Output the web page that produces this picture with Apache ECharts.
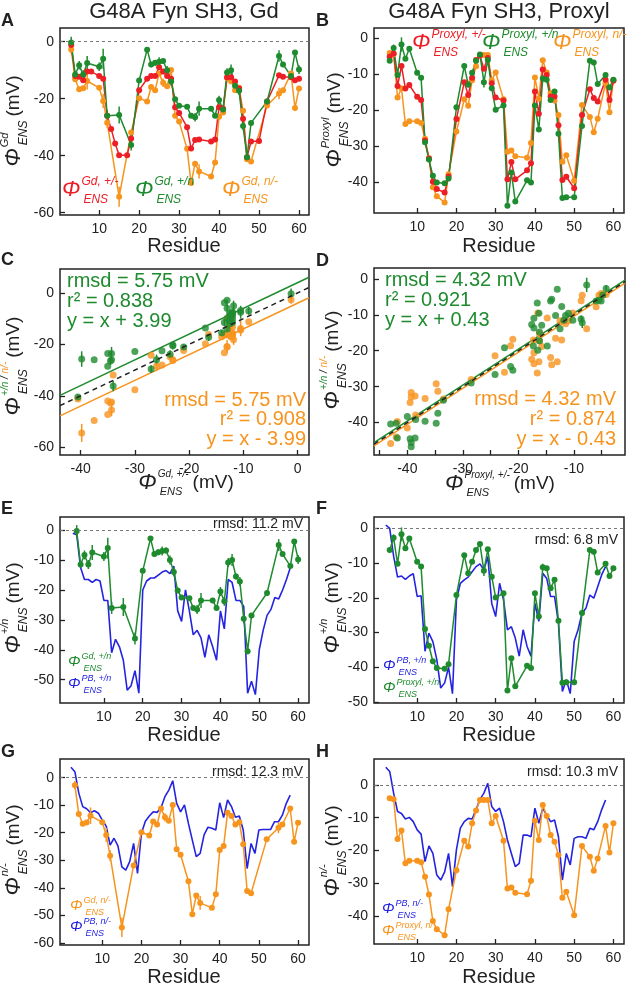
<!DOCTYPE html>
<html>
<head>
<meta charset="utf-8">
<script src="https://cdn.jsdelivr.net/npm/echarts@6/dist/echarts.min.js"></script>
<style>
  html, body { margin: 0; background: #fff; }
  #chart { width: 627px; height: 986px; }
</style>
</head>
<body>
<div id="chart"></div>
<script>
// ---- Gd data (residue, mV) ----
const gdResPM = [3,4,5,6,7,8,10,11,12,13,14,15,17,18,20,22,23,24,25,26,27,28,29,30,32,33,34,35,38,39,40,41,42,43,44,45,46,47,48,50,52,55,56,58,59,60];
const gdPM = [-1.2,-12,-12.3,-13.5,-10.5,-10.5,-12,-13,-26,-30.6,-35.7,-39.8,-39.8,-34,-17,-13,-12,-12,-9,-10.5,-12,-13,-23,-25,-30,-37.5,-34.5,-34.3,-35,-34.3,-23,-23.5,-12.5,-12.5,-14,-16.4,-27,-40.5,-35,-34.8,-21,-11.8,-12.3,-12.5,-13.5,-13];
const gdRes = [3,4,5,6,7,10,11,12,15,18,20,22,23,24,25,26,27,28,29,30,32,33,34,35,38,39,40,41,42,43,44,45,46,47,48,52,55,56,58,59,60];
const gdPN = [-0.3,-11.5,-8.3,-11.5,-7.5,-8.8,-6,-26,-25.7,-36.2,-13.6,-2.8,-8,-7.4,-7,-6.8,-10,-14,-20.2,-22.5,-22.8,-26,-26.5,-23.5,-23.5,-26,-20.5,-23.8,-10.8,-10,-15.5,-17.2,-29.6,-40.5,-28.5,-21,-5,-8,-12,-3.8,-9.8];
const gdPNerr = [2,1,1.5,1.5,2.5,1.5,3.5,2,3,2,0,0,1,1,1.5,1,1.5,1.5,0,0,0,0,1.5,2.5,0,0,1.5,1.5,1.5,2,1,1.5,1.5,1,0,1,2,0,0,0,1.5];
const gdNM = [-2.7,-13.2,-16.7,-16.3,-13.8,-16.2,-20.8,-28.4,-54.4,-31.9,-19.8,-21,-15.9,-17,-11.2,-14.4,-15.6,-9.9,-26,-28,-37.6,-49.6,-42.8,-45.5,-47.3,-42.4,-26.3,-24.8,-12.7,-13.9,-17,-16.2,-24.2,-41.2,-42,-22.4,-18.2,-17,-11.2,-23.3,-16.4];
const gdNMerr = [1.5,0,0,0,3,0,2.5,2,3.5,0,0,0,0,0,0,1.5,0,0,0,0,0,0,0,2.5,0,0,0,0,0,0,0,0,0,0,0,0,2,0,0,0,0];

// ---- Proxyl data ----
const pxRes = [3,4,5,6,7,8,10,11,12,13,14,15,17,18,20,22,23,24,25,26,27,28,29,30,32,33,34,35,38,39,40,41,42,43,44,45,46,47,48,50,52,54,55,56,58,59,60];
const pxPM = [-5.1,-4.2,-13.3,-7.7,-14,-13,-16.3,-17.2,-28.5,-33.5,-40,-42,-43,-38.5,-22.5,-12.2,-15.8,-11,-6,-4.8,-8.5,-5.5,-12.5,-16.5,-17.3,-39.3,-34.5,-39.3,-36.8,-34.8,-14.8,-21,-8.7,-10.2,-16.2,-16.2,-24.2,-39.5,-38.6,-41.8,-21.4,-14.2,-16.6,-17.6,-11.5,-17.2,-11.8];
const pxPN = [-6.2,-2.7,-10.2,-1.7,-5.7,-2.9,-9.6,-11,-29,-33.8,-38.3,-40.2,-40.4,-39.1,-19.2,-7.7,-12.9,-9.6,-6.2,-4.5,-12.2,-6,-13.9,-19.9,-18.7,-46.7,-37.4,-45.5,-39.6,-40.2,-18.7,-25.4,-11.2,-11.5,-17.2,-14.8,-26.6,-44.5,-44.3,-44.3,-24.4,-6.2,-6.7,-12.7,-10.2,-13.7,-11.5];
const pxPNerr = [0,1,0,2,0,0,0,0,0,0,0,0,0,0,0,0,0,0,0,0,1.5,0,0,0,0,0,0,0,0,0,0,0,1,0,0,0,0,0,0,0,0,0,0,0,0,0,0];
const pxNM = [-4.1,-4.4,-16.5,-13.9,-23.9,-23.1,-23.1,-23.6,-28,-33.4,-41.5,-44,-45.8,-37.9,-26,-17,-18.8,-11.7,-7.8,-4.6,-4.6,-4.6,-11.7,-9.5,-17,-31.6,-31.3,-32.9,-33.3,-29.2,-10.9,-16.8,-6.1,-9.5,-15.3,-17.3,-21.4,-34.4,-32.6,-39.7,-18.6,-21.9,-26.2,-22.4,-12.5,-20.6,-11.7];

// ---- PB calculations ----
const pbRes = [2,3,4,5,6,7,8,9,10,11,12,13,14,15,16,17,18,19,20,21,22,23,24,25,26,27,28,29,30,31,32,33,34,35,36,37,38,39,40,41,42,43,44,45,46,47,48,49,50,51,52,53,54,55,56,57,58];
const pbPN_E = [-1,-1.5,-12.5,-16.5,-16.5,-17.5,-16.5,-17,-23.5,-23.5,-41,-36.5,-39,-43.5,-53.5,-52,-47,-54.5,-20,-17,-16,-16,-15,-14,-13.5,-14.5,-12,-27,-30.5,-20,-27,-35,-33.5,-36,-42.5,-35,-39,-43.5,-27,-33,-16.5,-17.5,-23.5,-23.5,-25.5,-54.5,-50.5,-55,-40,-33.5,-28.5,-26.5,-22.5,-23,-20,-16.5,-12.5];
const pbPN_F = [1,0,-8,-14,-13.7,-14.7,-13.7,-13,-19.6,-19.4,-35.4,-30.2,-32.6,-37.8,-46,-44.5,-40,-47.6,-20.6,-15.8,-14.8,-14,-12.5,-11,-10.2,-12,-8.1,-21.6,-25.4,-15.8,-20.6,-29.2,-28.3,-31.6,-36.8,-29.2,-34,-36.8,-21.6,-26.8,-12.9,-14.4,-19.6,-19.6,-27.3,-47,-43.6,-47.6,-32.6,-29.2,-24.4,-23,-19.2,-20.1,-16.8,-13.4,-11];
const pbNM_G = [3.8,2.2,-5.6,-10.5,-11.3,-12.7,-12,-12.9,-15.4,-17.6,-24.5,-22,-24.8,-32.4,-33.6,-30.5,-23.9,-34.8,-20.2,-15.8,-13.9,-12.4,-12.6,-10.9,-6.9,-4.5,-1.1,-9.3,-12.4,-9.9,-16.6,-22.7,-28.7,-27.5,-20.8,-18,-18.4,-19,-9.1,-14.5,-8.1,-10.5,-14.4,-13.9,-19,-33,-23.9,-27.5,-19,-18.8,-18.8,-18.8,-16,-16,-13.6,-9.3,-6.3];
const pbNM_H = [5.4,4.1,-2.5,-8.1,-8.7,-10.4,-9.9,-11.2,-13.7,-15,-23.4,-18.6,-20.9,-27.5,-29,-26.5,-20.9,-31,-19.8,-13.2,-11.2,-10.2,-10.4,-7.6,-4.4,-2.5,0.5,-6.6,-8.1,-7.1,-11.2,-16.8,-20.9,-24.9,-23.9,-15.3,-15.3,-15.8,-7.1,-11.7,-7.1,-9.2,-11.2,-10.7,-15.8,-29,-20.9,-24.4,-16.3,-15.8,-15.8,-16.3,-13.2,-13.7,-11.2,-7.6,-4.6];

// ---- fits and stats ----
const fitC = [3.99, -3.99];
const fitD = [0.43, -0.43];
const statsCgreen = ['rmsd = 5.75 mV', 'r² = 0.838', 'y = x + 3.99'];
const statsCorange = ['rmsd = 5.75 mV', 'r² = 0.908', 'y = x - 3.99'];
const statsDgreen = ['rmsd = 4.32 mV', 'r² = 0.921', 'y = x + 0.43'];
const statsDorange = ['rmsd = 4.32 mV', 'r² = 0.874', 'y = x - 0.43'];
const rmsdEFGH = ['rmsd: 11.2 mV', 'rmsd: 6.8 mV', 'rmsd: 12.3 mV', 'rmsd: 10.3 mV'];

// ---- tick labels ----
const resTicks = [10, 20, 30, 40, 50, 60];
const xTicksC = [-40, -30, -20, -10, 0];
const xTicksD = [-40, -30, -20, -10];
const xMinorD = [-45, -40, -35, -30, -25, -20, -15, -10, -5];
const yTicks20 = [0, -20, -40, -60];
const yTicks40 = [0, -10, -20, -30, -40];
const yTicks50 = [0, -10, -20, -30, -40, -50];
const yTicks60 = [0, -10, -20, -30, -40, -50, -60];

const FONT = '"Liberation Sans", Arial, sans-serif';
const INK = '#222';
const RED = '#ec1f26', GREEN = '#1f8b2f', ORANGE = '#f7941e', BLUE = '#2424e0';

// panel layout: A..H
const grids = [
  { left: 60,  top: 28,  width: 249, height: 187 },
  { left: 374, top: 28,  width: 250, height: 185 },
  { left: 60,  top: 269, width: 249, height: 186 },
  { left: 374, top: 268, width: 251, height: 187 },
  { left: 60,  top: 517, width: 249, height: 186 },
  { left: 374, top: 517, width: 250, height: 186 },
  { left: 60,  top: 759, width: 249, height: 186 },
  { left: 374, top: 759, width: 250, height: 185 }
];
const xRange = [[0.2, 62.5], [-1, 62.7], [-43.8, 2.1], [-46, -0.8], [-1.3, 62.8], [-1, 62.7], [-0.8, 62.8], [-1, 62.7]];
const yRange = [[-60.8, 4.8], [-48.7, 2.9], [-63, 9.3], [-49, 3], [-57.8, 4.4], [-50.3, 3.3], [-60.8, 6.8], [-48.5, 7.9]];
const xLab = [resTicks, resTicks, xTicksC, xTicksD, resTicks, resTicks, resTicks, resTicks];
const xTick = [resTicks, resTicks, xTicksC, xMinorD, resTicks, resTicks, resTicks, resTicks];
const yLab = [yTicks20, yTicks40, yTicks20, yTicks40, yTicks50, yTicks50, yTicks60, yTicks40];

const pts = (xs, ys) => xs.map((x, i) => [x, ys[i]]);
function pairs(resX, valX, resY, valY, errY) {
  const out = [];
  resY.forEach((r, i) => {
    const j = resX.indexOf(r);
    if (j >= 0) out.push([valX[j], valY[i], errY ? errY[i] : 0]);
  });
  return out;
}

const chart = echarts.init(document.getElementById('chart'), null, { renderer: 'canvas' });

const xAxes = grids.map((g, i) => ({
  type: 'value', gridIndex: i, min: xRange[i][0], max: xRange[i][1],
  axisLine: { show: false, onZero: false },
  splitLine: { show: false },
  axisTick: { show: true, inside: true, length: 5, customValues: xTick[i], lineStyle: { color: INK, width: 1.3 } },
  axisLabel: { customValues: xLab[i], fontSize: 14, color: INK, fontFamily: FONT, margin: 7 }
}));
const yAxes = grids.map((g, i) => ({
  type: 'value', gridIndex: i, min: yRange[i][0], max: yRange[i][1],
  axisLine: { show: false, onZero: false },
  splitLine: { show: false },
  axisTick: { show: true, inside: true, length: 5, customValues: yLab[i], lineStyle: { color: INK, width: 1.3 } },
  axisLabel: { customValues: yLab[i], fontSize: 14, color: INK, fontFamily: FONT, margin: 6 }
}));

function lineS(idx, data, color, extra) {
  return Object.assign({
    type: 'line', xAxisIndex: idx, yAxisIndex: idx, data,
    symbol: 'circle', symbolSize: 6, color,
    lineStyle: { width: 1.5, color }, itemStyle: { color }, z: 3
  }, extra || {});
}
function pbS(idx, vals) {
  return lineS(idx, pts(pbRes, vals), BLUE, { symbol: 'none', z: 2, lineStyle: { width: 1.6, color: BLUE } });
}
// vertical error bars, data items [x, y, err]
function errS(idx, data, color) {
  return {
    type: 'custom', xAxisIndex: idx, yAxisIndex: idx, silent: true, z: 3,
    data: data.filter(d => d[2] > 0),
    encode: { x: 0, y: 1 },
    renderItem: (params, api) => {
      const x = api.value(0), y = api.value(1), e = api.value(2);
      const p1 = api.coord([x, y + e]), p2 = api.coord([x, y - e]);
      return { type: 'line', shape: { x1: p1[0], y1: p1[1], x2: p2[0], y2: p2[1] }, style: { stroke: color, lineWidth: 1.5 } };
    }
  };
}
const withErr = (res, vals, errs) => res.map((r, i) => [r, vals[i], errs[i]]);
const zeroLine = {
  silent: true, symbol: 'none', label: { show: false },
  lineStyle: { type: [3, 3], color: '#777', width: 1 }, data: [{ yAxis: 0 }]
};
function fitS(idx, off, color, dashed) {
  const [a, b] = xRange[idx];
  return {
    type: 'line', xAxisIndex: idx, yAxisIndex: idx, symbol: 'none', z: dashed ? 4 : 2,
    data: [[a, a + off], [b, b + off]],
    lineStyle: { color, width: 1.5, type: dashed ? [5, 4] : 'solid' }
  };
}
function scatS(idx, data, color) {
  return { type: 'scatter', xAxisIndex: idx, yAxisIndex: idx, data, symbolSize: 7, itemStyle: { color }, z: 3 };
}

const cOrange = pairs(gdResPM, gdPM, gdRes, gdNM, gdNMerr);
const cGreen = pairs(gdResPM, gdPM, gdRes, gdPN, gdPNerr);
const dOrange = pairs(pxRes, pxPM, pxRes, pxNM);
const dGreen = pairs(pxRes, pxPM, pxRes, pxPN, pxPNerr);

const series = [
  // A
  lineS(0, pts(gdRes, gdNM), ORANGE, { markLine: zeroLine }),
  errS(0, withErr(gdRes, gdNM, gdNMerr), ORANGE),
  lineS(0, pts(gdResPM, gdPM), RED),
  lineS(0, pts(gdRes, gdPN), GREEN),
  errS(0, withErr(gdRes, gdPN, gdPNerr), GREEN),
  // B
  lineS(1, pts(pxRes, pxNM), ORANGE),
  lineS(1, pts(pxRes, pxPM), RED),
  lineS(1, pts(pxRes, pxPN), GREEN),
  errS(1, withErr(pxRes, pxPN, pxPNerr), GREEN),
  // C
  fitS(2, fitC[0], GREEN, false),
  fitS(2, fitC[1], ORANGE, false),
  fitS(2, 0, INK, true),
  scatS(2, cOrange, ORANGE),
  errS(2, cOrange, ORANGE),
  scatS(2, cGreen, GREEN),
  errS(2, cGreen, GREEN),
  // D
  fitS(3, fitD[1], ORANGE, false),
  fitS(3, fitD[0], GREEN, false),
  fitS(3, 0, INK, true),
  scatS(3, dOrange, ORANGE),
  scatS(3, dGreen, GREEN),
  errS(3, dGreen, GREEN),
  // E
  Object.assign(pbS(4, pbPN_E), { markLine: zeroLine }),
  lineS(4, pts(gdRes, gdPN), GREEN),
  errS(4, withErr(gdRes, gdPN, gdPNerr), GREEN),
  // F
  Object.assign(pbS(5, pbPN_F), { markLine: zeroLine }),
  lineS(5, pts(pxRes, pxPN), GREEN),
  errS(5, withErr(pxRes, pxPN, pxPNerr), GREEN),
  // G
  Object.assign(pbS(6, pbNM_G), { markLine: zeroLine }),
  lineS(6, pts(gdRes, gdNM), ORANGE),
  errS(6, withErr(gdRes, gdNM, gdNMerr), ORANGE),
  // H
  Object.assign(pbS(7, pbNM_H), { markLine: zeroLine }),
  lineS(7, pts(pxRes, pxNM), ORANGE)
];

// ---- text helpers ----
const mctx = document.createElement('canvas').getContext('2d');
function tw(text, size, italic) {
  mctx.font = (italic ? 'italic ' : '') + size + 'px ' + FONT;
  return mctx.measureText(text).width;
}
function txt(x, y, text, size, color, opt) {
  opt = opt || {};
  return {
    type: 'text', x, y, z: 100,
    style: {
      text, fontSize: size, fill: color, fontFamily: FONT,
      fontStyle: opt.italic ? 'italic' : 'normal', fontWeight: opt.bold ? 'bold' : 'normal',
      align: opt.align || 'left', verticalAlign: 'middle'
    }
  };
}
// Φ with superscript / subscript, optional suffix
function phi(x, y, o) {
  const s = o.size, ss = o.small;
  const kids = [txt(0, 0, 'Φ', s, o.color, { italic: true })];
  const px = tw('Φ', s, true) + 1;
  let supW = 0;
  o.sup.forEach(([t, c]) => {
    kids.push(txt(px + supW, -s * 0.4, t, ss, c, { italic: true }));
    supW += tw(t, ss, true);
  });
  kids.push(txt(px + 2, s * 0.42, 'ENS', o.subSize || ss, o.color, { italic: true }));
  let total = px + Math.max(supW, tw('ENS', o.subSize || ss, true) + 2);
  if (o.suffix) {
    kids.push(txt(total + 4, 0, o.suffix, o.sufSize, INK));
    total += 4 + tw(o.suffix, o.sufSize, false);
  }
  if (o.center) kids.forEach(k => { k.x -= total / 2; });
  return { type: 'group', x, y, rotation: o.rot || 0, z: 100, children: kids };
}
const yName = (x, y, sup, small) => phi(x, y, { size: 22, small: small || 11, subSize: 12, sup, color: INK, suffix: '(mV)', sufSize: 19, center: true, rot: Math.PI / 2 });
const xName = (x, y, sup) => phi(x, y, { size: 22, small: 10, subSize: 11, sup: [[sup, INK]], color: INK, suffix: '(mV)', sufSize: 19, center: true });
const bigLeg = (x, y, sup, color) => phi(x, y, { size: 22, small: 12, sup: [[sup, color]], color });
const smallLeg = (x, y, sup, color) => phi(x, y, { size: 15, small: 9, sup: [[sup, color]], color });

const graphics = [
  txt(184, 12, 'G48A Fyn SH3, Gd', 22, INK, { align: 'center' }),
  txt(499, 12, 'G48A Fyn SH3, Proxyl', 22, INK, { align: 'center' }),
  txt(1, 21, 'A', 18, INK, { bold: true }), txt(316, 21, 'B', 18, INK, { bold: true }),
  txt(1, 260, 'C', 18, INK, { bold: true }), txt(316, 261, 'D', 18, INK, { bold: true }),
  txt(1, 509, 'E', 18, INK, { bold: true }), txt(316, 509, 'F', 18, INK, { bold: true }),
  txt(1, 752, 'G', 18, INK, { bold: true }), txt(316, 752, 'H', 18, INK, { bold: true }),
  txt(184, 246, 'Residue', 20, INK, { align: 'center' }),
  txt(499, 246, 'Residue', 20, INK, { align: 'center' }),
  txt(184, 735, 'Residue', 20, INK, { align: 'center' }),
  txt(499, 735, 'Residue', 20, INK, { align: 'center' }),
  txt(184, 977, 'Residue', 20, INK, { align: 'center' }),
  txt(499, 977, 'Residue', 20, INK, { align: 'center' }),
  xName(186, 483, 'Gd, +/-'),
  xName(500, 484, 'Proxyl, +/-'),
  yName(14, 121, [['Gd', INK]]),
  yName(335, 120, [['Proxyl', INK]]),
  yName(14, 366, [['+/n', GREEN], [' / ', INK], ['n/-', ORANGE]], 10),
  yName(333, 360, [['+/n', GREEN], [' / ', INK], ['n/-', ORANGE]], 10),
  yName(14, 608, [['+/n', INK]]),
  yName(333, 608, [['+/n', INK]]),
  yName(14, 850, [['n/-', INK]]),
  yName(333, 851, [['n/-', INK]]),
  bigLeg(62, 190, 'Gd, +/-', RED),
  bigLeg(135, 190, 'Gd, +/n', GREEN),
  bigLeg(222, 190, 'Gd, n/-', ORANGE),
  bigLeg(412, 43, 'Proxyl, +/-', RED),
  bigLeg(482, 43, 'Proxyl, +/n', GREEN),
  bigLeg(553, 43, 'Proxyl, n/-', ORANGE),
  smallLeg(68, 662, 'Gd, +/n', GREEN),
  smallLeg(68, 684, 'PB, +/n', BLUE),
  smallLeg(383, 666, 'PB, +/n', BLUE),
  smallLeg(383, 688, 'Proxyl, +/n', GREEN),
  smallLeg(70, 906, 'Gd, n/-', ORANGE),
  smallLeg(70, 927, 'PB, n/-', BLUE),
  smallLeg(382, 909, 'PB, n/-', BLUE),
  smallLeg(382, 931, 'Proxyl, n/-', ORANGE)
];
statsCgreen.forEach((t, i) => graphics.push(txt(67, 281 + i * 20, t, 20, GREEN)));
statsCorange.forEach((t, i) => graphics.push(txt(306, 400 + i * 19.5, t, 20, ORANGE, { align: 'right' })));
statsDgreen.forEach((t, i) => graphics.push(txt(385, 280 + i * 20, t, 20, GREEN)));
statsDorange.forEach((t, i) => graphics.push(txt(616, 399 + i * 20, t, 20, ORANGE, { align: 'right' })));
graphics.push(txt(303, 524, rmsdEFGH[0], 14, INK, { align: 'right' }));
graphics.push(txt(618, 540, rmsdEFGH[1], 14, INK, { align: 'right' }));
graphics.push(txt(303, 772, rmsdEFGH[2], 14, INK, { align: 'right' }));
graphics.push(txt(618, 772, rmsdEFGH[3], 14, INK, { align: 'right' }));

chart.setOption({
  animation: false,
  backgroundColor: '#fff',
  textStyle: { fontFamily: FONT },
  grid: grids.map(g => Object.assign({ show: true, borderColor: INK, borderWidth: 1.5, backgroundColor: 'transparent' }, g)),
  xAxis: xAxes,
  yAxis: yAxes,
  series,
  graphic: graphics
});
</script>
</body>
</html>
